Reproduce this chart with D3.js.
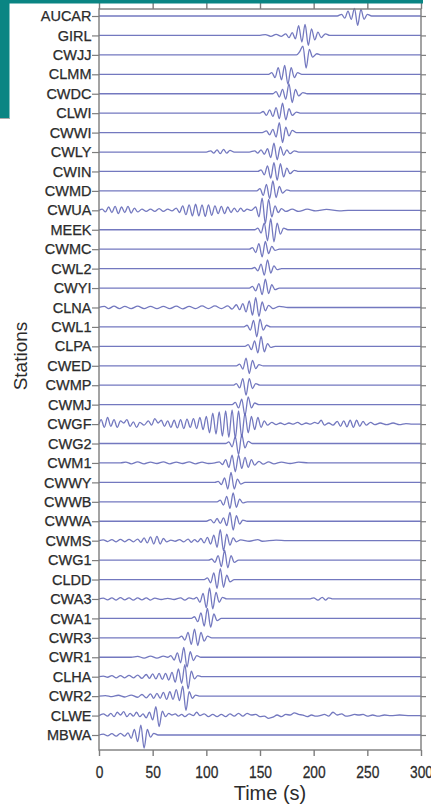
<!DOCTYPE html>
<html lang="en">
<head>
<meta charset="UTF-8">
<title>Stations</title>
<script src="https://d3js.org/d3.v7.min.js"></script>
<style>
  body { margin: 0; background: #fff; }
  svg { display: block; font-family: "Liberation Sans", Arial, sans-serif; }
</style>
</head>
<body>
<div id="chart"></div>
<script>
// station names, top to bottom
const stations = ["AUCAR", "GIRL", "CWJJ", "CLMM", "CWDC", "CLWI", "CWWI", "CWLY", "CWIN", "CWMD",
  "CWUA", "MEEK", "CWMC", "CWL2", "CWYI", "CLNA", "CWL1", "CLPA", "CWED", "CWMP", "CWMJ", "CWGF",
  "CWG2", "CWM1", "CWWY", "CWWB", "CWWA", "CWMS", "CWG1", "CLDD", "CWA3", "CWA1", "CWR3", "CWR1",
  "CLHA", "CWR2", "CLWE", "MBWA"];
const timeTicks = [0, 50, 100, 150, 200, 250, 300];

// each trace: [time (s), relative amplitude] at its turning points
const AUCAR = [[222,0],[226,0.15],[229,-0.2],[232,0.45],[235,-0.3],[238,0.7],[241,-0.85],[244,0.6],[247,-0.3],[250,0.15],[254,0]];
const GIRL = [[150,0],[155,0.08],[160,-0.08],[165,0.1],[170,-0.08],[174,0.15],[177,-0.2],[180,0.25],[183,-0.3],[186,0.9],[189,-0.6],[192,1.0],[195,-0.9],[198,0.6],[201,-0.4],[204,0.3],[207,-0.2],[211,0.15],[215,0]];
const CWJJ = [[184,0],[187,0.3],[190,0.8],[193,-1.2],[196,0.5],[199,-0.2],[203,0.1],[207,0]];
const CLMM = [[158,0],[161,0.15],[164,-0.3],[167,0.6],[170,-0.5],[173,0.8],[176,-0.9],[179,0.6],[182,-0.3],[185,0.15],[189,0]];
const CWDC = [[162,0],[165,0.2],[168,-0.3],[171,0.4],[174,-0.5],[177,0.9],[180,-0.8],[183,0.4],[186,-0.2],[190,0.1],[194,0]];
const CLWI = [[150,0],[153,0.15],[156,-0.2],[159,0.3],[162,-0.3],[165,0.5],[168,-0.5],[171,0.9],[174,-0.6],[177,0.4],[180,-0.2],[184,0.1],[188,0]];
const CWWI = [[152,0],[156,0.15],[159,-0.2],[162,0.3],[165,-0.4],[168,0.9],[171,-0.9],[174,0.5],[177,-0.3],[180,0.2],[184,0]];
const CWLY = [[100,0],[104,0.1],[107,-0.1],[110,0.2],[113,-0.15],[116,0.25],[119,-0.1],[122,0.15],[126,0],[140,0],[145,0.1],[148,-0.1],[151,0.2],[154,-0.2],[157,0.3],[160,-0.5],[163,0.8],[166,-0.7],[169,0.5],[172,-0.3],[175,0.2],[178,-0.15],[182,0.1],[186,0]];
const CWIN = [[148,0],[151,0.15],[154,-0.3],[157,0.5],[160,-0.6],[163,0.8],[166,-0.8],[169,0.7],[172,-0.5],[175,0.3],[178,-0.2],[182,0.1],[186,0]];
const CWMD = [[147,0],[150,0.2],[153,-0.4],[156,0.6],[159,-0.7],[162,0.9],[165,-0.6],[168,0.4],[171,-0.2],[175,0.1],[179,0]];
const CWUA = [[0,0],[3,0.1],[6,-0.15],[9,0.3],[12,-0.2],[15,0.35],[18,-0.3],[21,0.3],[24,-0.2],[27,0.35],[30,-0.25],[33,0.2],[36,-0.15],[40,0.1],[44,-0.1],[48,0.1],[52,-0.1],[56,0.15],[60,-0.1],[64,0.1],[68,-0.05],[72,0.2],[75,-0.2],[78,0.4],[81,-0.4],[84,0.5],[87,-0.5],[90,0.55],[93,-0.5],[96,0.5],[99,-0.55],[102,0.5],[105,-0.45],[108,0.4],[111,-0.3],[114,0.35],[117,-0.3],[120,0.3],[123,-0.2],[126,0.2],[129,-0.15],[132,0.2],[135,-0.1],[138,0.1],[142,0],[146,0.3],[149,-0.6],[152,1.1],[155,-1.2],[158,1.0],[161,-0.6],[164,0.4],[167,-0.2],[170,0.15],[174,-0.1],[180,0.1],[186,-0.1],[194,0.1],[202,-0.05],[212,0.08],[224,-0.05],[232,0]];
const MEEK = [[145,0],[148,0.15],[151,-0.3],[154,0.6],[157,-1.0],[160,1.0],[163,-1.1],[166,0.6],[169,-0.4],[172,0.15],[176,0]];
const CWMC = [[140,0],[143,0.15],[146,-0.3],[149,0.5],[152,-0.7],[155,0.7],[158,-0.4],[161,0.25],[164,-0.1],[168,0]];
const CWL2 = [[142,0],[145,0.1],[148,-0.2],[151,0.4],[154,-0.6],[157,0.8],[160,-0.4],[163,0.25],[166,-0.1],[170,0]];
const CWYI = [[140,0],[143,0.15],[146,-0.25],[149,0.4],[152,-0.6],[155,0.8],[158,-0.5],[161,0.3],[164,-0.15],[168,0]];
const CLNA = [[0,0],[5,0.1],[9,-0.1],[14,0.12],[19,-0.1],[24,0.1],[30,-0.1],[36,0.12],[42,-0.1],[48,0.1],[54,-0.1],[60,0.1],[66,-0.1],[72,0.12],[78,-0.12],[84,0.1],[90,-0.1],[96,0.15],[102,-0.1],[108,0.15],[114,-0.1],[120,0.15],[124,-0.15],[128,0.25],[131,-0.2],[134,0.35],[137,-0.4],[140,0.6],[143,-0.7],[146,0.9],[149,-0.8],[152,0.5],[155,-0.3],[158,0.2],[162,-0.1],[168,0.1],[176,0]];
const CWL1 = [[135,0],[138,0.15],[141,-0.3],[144,0.6],[147,-0.9],[150,0.7],[153,-0.3],[156,0.15],[160,0]];
const CLPA = [[136,0],[139,0.15],[142,-0.3],[145,0.5],[148,-0.6],[151,0.9],[154,-0.5],[157,0.25],[160,-0.1],[164,0]];
const CWED = [[128,0],[131,0.15],[134,-0.3],[137,0.7],[140,-0.7],[143,0.5],[146,-0.25],[149,0.1],[153,0]];
const CWMP = [[125,0],[128,0.15],[131,-0.25],[134,0.6],[137,-0.9],[140,0.6],[143,-0.3],[146,0.15],[150,0]];
const CWMJ = [[124,0],[127,0.2],[130,-0.3],[133,0.5],[136,-1.0],[139,0.7],[142,-0.3],[145,0.15],[149,0]];
const CWGF = [[0,0],[2,0.4],[5,-0.3],[8,0.6],[11,-0.2],[14,0.4],[17,-0.3],[20,0.3],[23,0.1],[26,0.4],[29,-0.2],[32,0.2],[35,-0.3],[38,0.15],[42,-0.1],[46,0.3],[49,-0.1],[52,0.5],[55,0.1],[58,0.35],[61,-0.2],[64,0.3],[67,-0.3],[70,0.35],[73,-0.35],[76,0.4],[79,-0.4],[82,0.45],[85,-0.3],[88,0.5],[91,-0.4],[94,0.6],[97,-0.5],[100,0.7],[103,-0.8],[106,1.0],[109,-0.9],[112,1.1],[115,-1.1],[118,1.2],[121,-1.2],[124,1.3],[127,-1.3],[130,1.2],[133,-1.2],[136,1.0],[139,-0.8],[142,0.7],[145,-0.5],[148,0.6],[151,-0.3],[154,0.3],[157,-0.1],[161,0.15],[165,-0.05],[169,0.1],[173,-0.05],[177,0.1],[181,0],[185,0.15],[189,-0.05],[193,0.1],[197,0],[201,0.15],[204,0.05],[207,0.35],[210,-0.1],[214,0.1],[218,-0.1],[222,0.25],[225,-0.2],[228,0.3],[231,-0.25],[234,0.35],[237,-0.3],[240,0.35],[243,-0.2],[246,0.25],[249,-0.1],[253,0.15],[257,-0.05],[262,0.1],[268,-0.05],[274,0.1],[280,-0.05],[286,0.05],[292,0]];
const CWG2 = [[118,0],[121,0.15],[124,-0.3],[127,0.6],[130,-1.0],[133,0.8],[136,-0.4],[139,0.2],[143,0]];
const CWM1 = [[20,0],[25,0.08],[30,-0.08],[36,0.1],[42,-0.08],[48,0.08],[54,-0.05],[60,0.1],[66,-0.08],[72,0.08],[78,-0.05],[84,0.1],[90,-0.08],[96,0.08],[102,-0.05],[108,0],[112,0.1],[115,-0.15],[118,0.3],[121,-0.4],[124,0.7],[127,-0.8],[130,0.7],[133,-0.5],[136,0.5],[139,-0.4],[142,0.3],[145,-0.2],[149,0.15],[153,-0.1],[158,0.1],[163,-0.08],[170,0.08],[178,-0.05],[186,0.08],[195,0]];
const CWWY = [[108,0],[111,0.1],[114,-0.2],[117,0.4],[120,-0.6],[123,0.9],[126,-0.6],[129,0.3],[132,-0.15],[136,0]];
const CWWB = [[110,0],[113,0.15],[116,-0.3],[119,0.5],[122,-0.6],[125,0.8],[128,-0.5],[131,0.25],[134,-0.1],[138,0]];
const CWWA = [[100,0],[104,0.15],[107,-0.15],[110,0.25],[113,-0.2],[116,0.3],[119,-0.4],[122,0.8],[125,-0.8],[128,0.5],[131,-0.25],[134,0.1],[138,0]];
const CWMS = [[0,0],[4,0.08],[8,-0.08],[12,0.1],[16,-0.1],[20,0.12],[24,-0.1],[28,0.12],[32,-0.1],[36,0.15],[39,-0.15],[42,0.25],[45,-0.2],[48,0.35],[51,-0.3],[54,0.4],[57,-0.3],[60,0.2],[63,-0.1],[67,0.05],[71,-0.05],[75,0.1],[79,-0.1],[83,0.15],[86,-0.15],[89,0.1],[92,-0.1],[95,0.2],[98,-0.2],[101,0.3],[104,-0.3],[107,0.5],[110,-0.6],[113,1.0],[116,-0.9],[119,0.6],[122,-0.4],[125,0.25],[128,-0.1],[132,0.08],[140,-0.05],[148,0.1],[152,-0.05],[165,0.05],[175,0]];
const CWG1 = [[102,0],[105,0.1],[108,-0.2],[111,0.4],[114,-0.6],[117,0.9],[120,-0.7],[123,0.4],[126,-0.2],[130,0]];
const CLDD = [[98,0],[101,0.15],[104,-0.3],[107,0.6],[110,-0.8],[113,1.0],[116,-0.7],[119,0.4],[122,-0.2],[126,0]];
const CWA3 = [[0,0],[4,0.08],[8,-0.08],[12,0.1],[16,-0.1],[20,0.12],[24,-0.08],[28,0.1],[32,-0.1],[36,0.1],[40,-0.08],[44,0.1],[48,-0.1],[52,0.08],[58,-0.05],[64,0.05],[70,-0.05],[76,0.1],[80,-0.1],[84,0.1],[88,0],[91,0.15],[94,-0.3],[97,0.5],[100,-0.8],[103,1.0],[106,-0.9],[109,0.6],[112,-0.3],[115,0.15],[119,0],[196,0],[200,0.1],[204,-0.1],[208,0.15],[211,-0.1],[214,0.1],[218,0]];
const CWA1 = [[86,0],[89,0.15],[92,-0.3],[95,0.5],[98,-0.7],[101,0.9],[104,-0.8],[107,0.4],[110,-0.2],[114,0]];
const CWR3 = [[74,0],[77,0.15],[80,-0.2],[83,0.5],[86,-0.6],[89,0.8],[92,-0.7],[95,0.5],[98,-0.3],[101,0.15],[105,0]];
const CWR1 = [[30,0],[36,0.08],[42,-0.08],[48,0.1],[54,-0.08],[60,0.1],[64,0],[67,0.15],[70,-0.25],[73,0.4],[76,-0.5],[79,0.9],[82,-0.9],[85,0.5],[88,-0.3],[91,0.15],[95,0]];
const CLHA = [[0,0],[4,0.05],[8,-0.05],[12,0.1],[16,-0.1],[20,0.1],[24,-0.1],[28,0.12],[32,-0.1],[36,0.15],[40,-0.15],[44,0.2],[47,-0.15],[50,0.25],[53,-0.2],[56,0.3],[59,-0.25],[62,0.3],[65,-0.3],[68,0.4],[71,-0.5],[74,0.7],[77,-0.6],[80,1.1],[83,-1.1],[86,0.5],[89,-0.2],[92,0.1],[96,0]];
const CWR2 = [[0,0],[6,0.05],[12,-0.05],[18,0.08],[24,-0.08],[30,0.1],[36,-0.1],[40,0.15],[44,-0.15],[48,0.2],[51,-0.2],[54,0.25],[57,-0.2],[60,0.35],[63,-0.3],[66,0.4],[69,-0.3],[72,0.6],[75,-0.4],[78,0.9],[81,-1.3],[84,0.4],[87,-0.2],[90,0.1],[94,0]];
const CLWE = [[0,0],[4,0.15],[8,-0.05],[11,0.2],[14,-0.1],[17,0.3],[20,0.05],[23,0.35],[26,-0.1],[29,0.2],[32,-0.05],[35,0.3],[38,-0.1],[41,0.15],[44,-0.2],[47,0.3],[50,-0.4],[53,0.8],[56,-1.0],[59,0.4],[62,-0.1],[65,0.2],[68,0.05],[71,0.15],[74,-0.05],[77,0.1],[80,-0.1],[84,0.15],[88,0],[91,0.3],[94,0],[98,0.15],[102,-0.1],[106,0.1],[110,-0.1],[114,0.1],[118,-0.1],[122,0.15],[126,-0.05],[130,0.2],[134,-0.05],[138,0.2],[142,0.05],[146,0.1],[150,-0.1],[154,-0.05],[158,-0.25],[162,-0.15],[166,0.05],[170,-0.1],[174,0.1],[178,0.05],[182,0.25],[186,0.1],[190,0.05],[194,-0.1],[198,0.05],[202,-0.05],[206,0],[210,0.1],[214,-0.05],[218,0.3],[222,0.05],[226,0.15],[230,-0.05],[234,0],[238,0.1],[242,0.05],[246,0.1],[250,-0.05],[255,0.05],[260,-0.05],[266,0.05],[272,0],[280,0.05],[290,0]];
const MBWA = [[0,0],[4,0.08],[8,-0.08],[12,0.12],[16,-0.1],[20,0.15],[24,-0.1],[27,0.2],[30,-0.3],[33,0.5],[36,-0.6],[39,0.9],[42,-1.2],[45,0.5],[48,-0.2],[51,0.15],[55,0]];

const traces = [AUCAR, GIRL, CWJJ, CLMM, CWDC, CLWI, CWWI, CWLY, CWIN, CWMD, CWUA, MEEK, CWMC, CWL2,
  CWYI, CLNA, CWL1, CLPA, CWED, CWMP, CWMJ, CWGF, CWG2, CWM1, CWWY, CWWB, CWWA, CWMS, CWG1, CLDD,
  CWA3, CWA1, CWR3, CWR1, CLHA, CWR2, CLWE, MBWA];

var width = 431;
var height = 808;
var teal = "#0a8583";
var frameColor = "#7d7d7d";
var textColor = "#2b2b2b";

const svg = d3.select("#chart").append("svg")
    .attr("width", width)
    .attr("height", height);

const x = d3.scaleLinear().domain([0, 300]).range([99, 421]);
const y = d3.scalePoint().domain(stations).range([16, 735]);
const amp = d3.scaleLinear().domain([-1, 1]).range([11, -11]);

// traces
const line = d3.line()
    .x(d => x(d[0]))
    .y(d => amp(d[1]))
    .curve(d3.curveMonotoneX);

svg.append("g").selectAll("path")
    .data(traces)
    .join("path")
    .attr("transform", (d, i) => "translate(0," + y(stations[i]) + ")")
    .attr("d", d => {
        // trace runs along its baseline over the whole window
        var pts = d.slice();
        if (pts[0][0] > 0) pts.unshift([0, 0]);
        if (pts[pts.length - 1][0] < 300) pts.push([300, 0]);
        return line(pts);
    })
    .attr("fill", "none")
    .attr("stroke", "#6469b8")
    .attr("stroke-width", 1.3)
    .attr("stroke-opacity", 0.9);

// frame
svg.append("rect")
    .attr("x", 99).attr("y", 9)
    .attr("width", 322).attr("height", 741)
    .attr("fill", "none")
    .attr("stroke", frameColor)
    .attr("stroke-width", 1.4);

// bottom axis
const bottomAxis = svg.append("g")
    .attr("transform", "translate(0,750)")
    .call(d3.axisBottom(x).tickValues(timeTicks).tickSize(6));
bottomAxis.select(".domain").remove();
bottomAxis.selectAll("line").attr("stroke", frameColor).attr("stroke-width", 1.4);
bottomAxis.selectAll("text")
    .attr("dy", null)
    .attr("y", 25)
    .attr("transform", "scale(0.92,1.12)")
    .attr("font-size", 15)
    .attr("font-family", "'Liberation Sans', Arial, sans-serif")
    .attr("fill", textColor)
    .attr("stroke", textColor)
    .attr("stroke-width", 0.25);

// top ticks
const topAxis = svg.append("g")
    .attr("transform", "translate(0,9)")
    .call(d3.axisTop(x).tickValues(timeTicks).tickSize(9).tickFormat(""));
topAxis.select(".domain").remove();
topAxis.selectAll("line").attr("stroke", frameColor).attr("stroke-width", 1.4);

// station axis
const leftAxis = svg.append("g")
    .attr("transform", "translate(99,0)")
    .call(d3.axisLeft(y).tickSize(7).tickPadding(0.5));
leftAxis.select(".domain").remove();
leftAxis.selectAll("line").attr("stroke", frameColor).attr("stroke-width", 1.2);
leftAxis.selectAll("text")
    .attr("font-size", 14.5)
    .attr("font-family", "'Liberation Sans', Arial, sans-serif")
    .attr("fill", textColor)
    .attr("stroke", textColor)
    .attr("stroke-width", 0.25);

const rightAxis = svg.append("g")
    .attr("transform", "translate(421,0)")
    .call(d3.axisRight(y).tickSize(5).tickFormat(""));
rightAxis.select(".domain").remove();
rightAxis.selectAll("line").attr("stroke", frameColor).attr("stroke-width", 1.2);

// axis titles
svg.append("text")
    .attr("x", 270).attr("y", 800)
    .attr("text-anchor", "middle")
    .attr("font-size", 20)
    .attr("fill", textColor)
    .text("Time (s)");

svg.append("text")
    .attr("transform", "translate(27,356) rotate(-90)")
    .attr("text-anchor", "middle")
    .attr("font-size", 19)
    .attr("fill", textColor)
    .text("Stations");

// slide background showing at the corner
svg.append("rect").attr("x", 0).attr("y", 0).attr("width", 423).attr("height", 3.5).attr("fill", teal);
svg.append("rect").attr("x", 0).attr("y", 0).attr("width", 9.5).attr("height", 118).attr("fill", teal);
svg.append("line")
    .attr("x1", 0).attr("x2", 10).attr("y1", 118.5).attr("y2", 118.5)
    .attr("stroke", "#555").attr("stroke-opacity", 0.5);
</script>
</body>
</html>
